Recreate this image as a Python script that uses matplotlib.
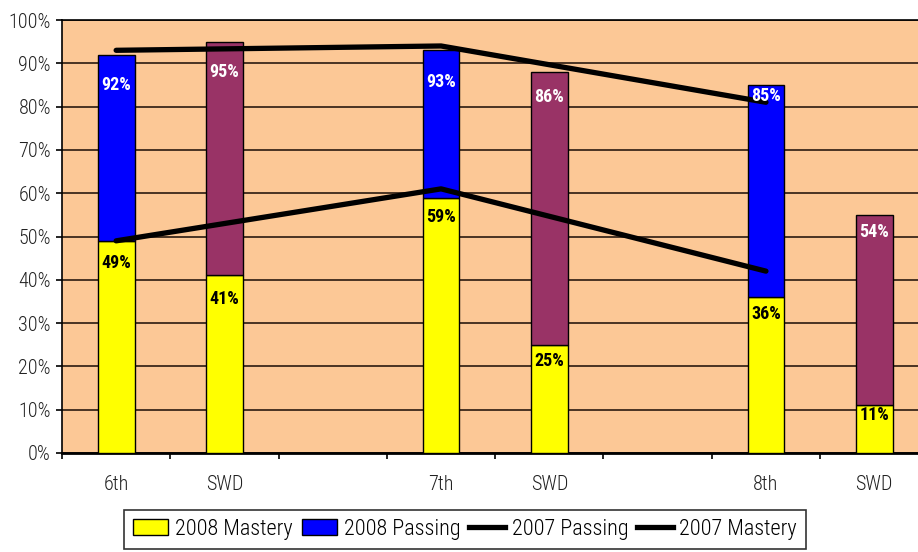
import matplotlib
matplotlib.use("Agg")
import matplotlib.pyplot as plt
from matplotlib.lines import Line2D
from matplotlib.patches import Patch
import numpy as np

# ── Data ──────────────────────────────────────────────────────────────────────
categories      = ["6th", "SWD", "", "7th", "SWD", "", "8th", "SWD"]
bar_slots       = [0, 1, 3, 4, 6, 7]            # category index of each bar
mastery_2008    = [49, 41, 59, 25, 36, 11]
top_2008        = [92, 95, 93, 88, 85, 55]      # bar tops as drawn
top_labels      = ["92%", "95%", "93%", "86%", "85%", "54%"]
mastery_labels  = ["49%", "41%", "59%", "25%", "36%", "11%"]
top_is_passing  = [True, False, True, False, True, False]  # blue vs SWD maroon

line_slots      = [0, 3, 6]
passing_2007    = [93, 94, 81]
mastery_2007    = [49, 61, 42]

# ── Style ─────────────────────────────────────────────────────────────────────
FONT = ["Roboto Condensed", "DejaVu Sans"]
BG     = "#FCC896"
YELLOW = "#FFFF00"
BLUE   = "#0000FF"
MAROON = "#993366"
# label offsets below bar top (points), tuned to the picture
top_off  = [22, 22, 23, 18, 8, 12]
mast_off = [16, 17, 14, 12, 12, 7]

fig = plt.figure(figsize=(9.18, 5.52), dpi=100)
cat_w = 108.3 / 918
ax = fig.add_axes([62 / 918, 1 - 453 / 552, 8 * cat_w, 433 / 552])
ax.set_facecolor(BG)
ax.set_xlim(-0.5, 7.5)
ax.set_ylim(0, 100)

x = np.array(bar_slots, dtype=float)
m = np.array(mastery_2008)
t = np.array(top_2008)
upper_colors = [BLUE if p else MAROON for p in top_is_passing]

ax.bar(x, m, width=0.34, color=YELLOW, edgecolor="black", linewidth=1, zorder=3)
ax.bar(x, t - m, bottom=m, width=0.34, color=upper_colors,
       edgecolor="black", linewidth=1, zorder=3)

ax.plot(line_slots, passing_2007, color="black", lw=3.8, solid_capstyle="round", zorder=5)
ax.plot(line_slots, mastery_2007, color="black", lw=3.8, solid_capstyle="round", zorder=5)

for xi, ti, lab, off in zip(x, t, top_labels, top_off):
    ax.annotate(lab, (xi, ti), xytext=(0, -off), textcoords="offset points",
                ha="center", va="center", color="white", fontsize=13,
                fontweight="bold", family=FONT, zorder=6)
for xi, mi, lab, off in zip(x, m, mastery_labels, mast_off):
    ax.annotate(lab, (xi, mi), xytext=(0, -off), textcoords="offset points",
                ha="center", va="center", color="black", fontsize=13,
                fontweight="bold", family=FONT, zorder=6)

# grid + axes
ax.set_yticks(np.arange(0, 101, 10))
ax.set_yticklabels([f"{v}%" for v in range(0, 101, 10)])
ax.yaxis.grid(True, color="#2a1a10", lw=1.2, zorder=1)
ax.set_axisbelow(True)
ax.tick_params(axis="y", direction="out", length=4, width=1.2, pad=4,
               labelsize=14.5, labelcolor="#222222")

ax.set_xticks(np.arange(-0.5, 8.0, 1.0))
ax.set_xticklabels([])
ax.tick_params(axis="x", which="major", direction="out", length=4, width=1.2)
ax.set_xticks(np.arange(len(categories)), minor=True)
ax.set_xticklabels(categories, minor=True)
ax.tick_params(axis="x", which="minor", length=0, pad=16, labelsize=14.5,
               labelcolor="#222222")
for lab in ax.get_xticklabels(minor=True) + ax.get_yticklabels():
    lab.set_family(FONT)
    lab.set_fontweight("light")

for side in ["left", "top", "right"]:
    ax.spines[side].set_linewidth(1.2)
ax.spines["bottom"].set_linewidth(2)

handles = [
    Patch(facecolor=YELLOW, edgecolor="black", label="2008 Mastery"),
    Patch(facecolor=BLUE, edgecolor="black", label="2008 Passing"),
    Line2D([], [], color="black", lw=3.8, label="2007 Passing"),
    Line2D([], [], color="black", lw=3.8, label="2007 Mastery"),
]
leg = fig.legend(handles=handles, loc="upper left",
                 bbox_to_anchor=(124 / 918, 1 - 510 / 552), ncol=4,
                 frameon=True, fancybox=False, edgecolor="black",
                 handlelength=1.6, handletextpad=0.3, columnspacing=0.4,
                 borderpad=0.4, borderaxespad=0,
                 prop={"family": FONT, "size": 16, "weight": "light"})
leg.get_frame().set_linewidth(1.2)

fig.savefig("out.png", dpi=100)
